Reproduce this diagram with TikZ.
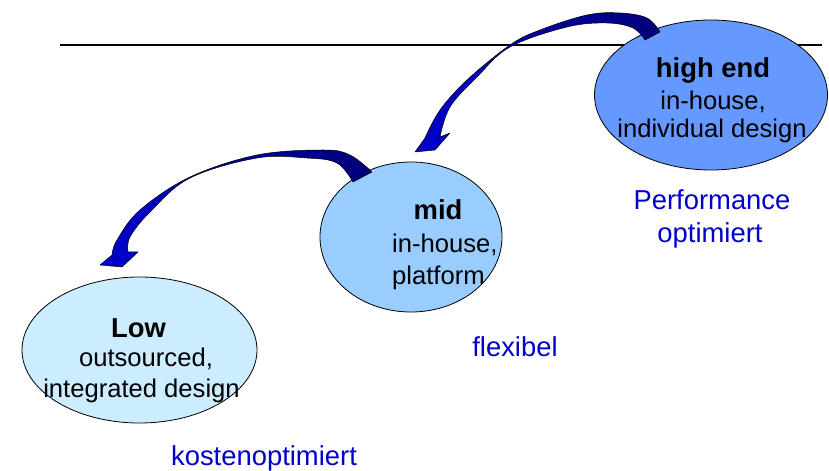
\documentclass[tikz,border=0pt]{standalone}
\usepackage{fontspec}
\setmainfont{Liberation Sans}
\usetikzlibrary{shapes.geometric}
\definecolor{hiblue}{RGB}{102,153,255}
\definecolor{midblue}{RGB}{153,204,255}
\definecolor{lowblue}{RGB}{204,236,255}
\definecolor{labblue}{RGB}{0,0,204}
\definecolor{arrdark}{RGB}{0,0,120}
\definecolor{arrlight}{RGB}{0,0,205}
\tikzset{
  blob/.style={ellipse, draw=black, line width=0.8bp, inner sep=0pt},
  title/.style={anchor=base, inner sep=0pt, font=\fontsize{27.5}{30}\selectfont\bfseries},
  body/.style={anchor=base, inner sep=0pt, font=\fontsize{25.7}{30}\selectfont},
  lab/.style={anchor=base, inner sep=0pt, text=labblue, font=\fontsize{27.5}{30}\selectfont},
  curvearrow/.style={left color=arrlight, right color=arrdark, draw=black, line width=0.5bp, line join=round}
}
\begin{document}
\begin{tikzpicture}[x=1bp,y=-1bp]
\useasboundingbox (0,0) rectangle (829,471);
% horizontal rule
\coordinate (ruleL) at (60,45);
\coordinate (ruleR) at (822,45);
\draw[line width=2bp] (ruleL) -- (ruleR);

% ellipses
\node[blob, fill=hiblue, minimum width=233bp, minimum height=150bp] (high) at (711,95) {};
\node[blob, fill=midblue, minimum width=182bp, minimum height=150bp] (mid) at (411,237) {};
\node[blob, fill=lowblue, minimum width=235bp, minimum height=146bp] (low) at (139.5,350) {};

% arrow high end -> mid
\path[curvearrow]
  plot[smooth, tension=0.6] coordinates {(660,32) (647,18) (620,13) (587,15) (540,30) (510,45) (467,80) (440,110) (425,138)}
  -- (415,152) -- (435,150) -- (450,133)
  -- plot[smooth, tension=0.6] coordinates {(440,137) (450,107) (477,77) (510,47) (567,27) (607,23) (633,28) (645,40)}
  -- cycle;

% arrow mid -> low
\path[curvearrow]
  plot[smooth, tension=0.6] coordinates {(372,172) (350,155) (323,150) (257,155) (190,177) (140,210) (117,240) (112,255)}
  -- (100,265) -- (122,267) -- (138,252)
  -- plot[smooth, tension=0.6] coordinates {(128,252) (130,237) (150,212) (190,178) (257,158) (307,158) (337,163) (353,182)}
  -- cycle;

% texts high end
\node[title] (t1) at (713,78) {high end};
\node[body] (t2) at (713,110) {in-house,};
\node[body] (t3) at (712,138) {individual design};
% texts mid
\node[title] (m1) at (438,220) {mid};
\node[body, anchor=base west] (m2) at (392,253) {in-house,};
\node[body, anchor=base west] (m3) at (392,285) {platform};
% texts low
\node[title] (l1) at (138.5,338) {Low};
\node[body] (l2) at (146,367) {outsourced,};
\node[body] (l3) at (141.5,397) {integrated design};

% labels
\node[lab] (p1) at (712,210) {Performance};
\node[lab] (p2) at (710,243) {optimiert};
\node[lab] (f1) at (515,357) {flexibel};
\node[lab] (k1) at (264,465) {kostenoptimiert};
\end{tikzpicture}
\end{document}
